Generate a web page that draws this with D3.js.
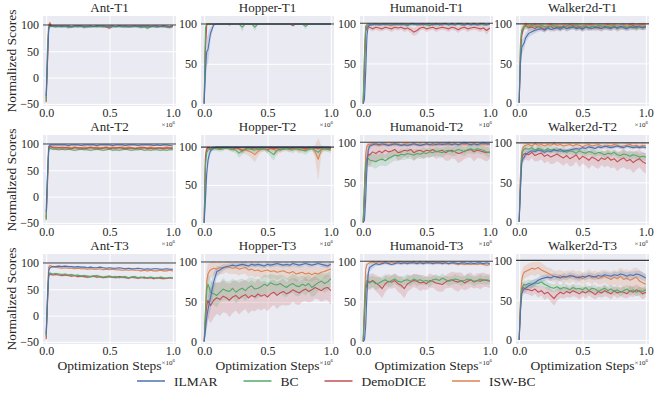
<!DOCTYPE html>
<html><head><meta charset="utf-8">
<script src="https://cdn.jsdelivr.net/npm/d3@7"></script>
<style>
body{margin:0;background:#fff;}
</style></head><body>
<svg id="chart" width="654" height="394"></svg>
<script>
// Training steps at which each run was evaluated
const steps = [0, 1e4, 2e4, 3e4, 4e4, 5e4,
  7.5e4, 1e5, 1.25e5, 1.5e5, 1.75e5, 2e5, 2.25e5, 2.5e5, 2.75e5, 3e5,
  3.25e5, 3.5e5, 3.75e5, 4e5, 4.25e5, 4.5e5, 4.75e5, 5e5, 5.25e5, 5.5e5,
  5.75e5, 6e5, 6.25e5, 6.5e5, 6.75e5, 7e5, 7.25e5, 7.5e5, 7.75e5, 8e5,
  8.25e5, 8.5e5, 8.75e5, 9e5, 9.25e5, 9.5e5, 9.75e5, 1e6];
const xTicks = [0, 5e5, 1e6];
const antTicks = [-50, 0, 50, 100];
const defTicks = [0, 50, 100];
const methods = ["ILMAR", "BC", "DemoDICE", "ISW-BC"];
const colors = ["#4C72B0", "#55A868", "#C44E52", "#DD8452"];

// ---- Ant ----
const ant1_ilmar = [-35,30,93,97,98,98, 98,98,97,98,98,97,98,98,98,97, 98,98,97,98,98,98,97,98,98,97, 98,98,98,97,98,98,97,98,98,98, 97,98,98,97,98,98,97,98];
const ant1_ilmar_sd = [6,15,5,2,1,1, 1,1,1,1,1,1,1,1,1,1, 1,1,1,1,1,1,1,1,1,1, 1,1,1,1,1,1,1,1,1,1, 1,1,1,1,1,1,1,1];
const ant1_bc = [-45,45,96,98,97,97, 96,97,96,97,95,96,97,96,97,95, 97,96,97,96,97,96,97,96,97,96, 97,96,96,97,96,97,96,95,96,94, 96,97,96,97,96,97,96,97];
const ant1_bc_sd = [5,12,4,2,2,2, 2,2,2,2,3,2,2,2,2,3, 2,2,2,2,2,2,2,2,2,2, 2,2,2,2,2,2,2,3,2,3, 2,2,2,2,2,2,2,2];
const ant1_demo = [-47,25,94,102,98,97, 97,97,98,97,97,96,97,98,97,97, 96,97,97,98,97,97,96,94,97,97, 98,97,97,96,97,97,98,97,97,96, 97,97,96,97,98,96,95,97];
const ant1_demo_sd = [5,15,5,4,2,2, 2,2,2,2,2,2,2,2,2,2, 2,2,2,2,2,2,2,3,2,2, 2,2,2,2,2,2,2,2,2,2, 2,2,2,2,2,2,3,2];
const ant1_isw = [-40,55,100,104,99,98, 98,97,98,97,98,97,98,97,98,98, 97,98,97,98,97,98,98,97,98,97, 98,97,98,98,97,98,97,98,97,98, 98,97,98,97,98,96,97,98];
const ant1_isw_sd = [5,12,4,4,2,1, 1.5,1.5,1.5,1.5,1.5,1.5,1.5,1.5,1.5,1.5, 1.5,1.5,1.5,1.5,1.5,1.5,1.5,1.5,1.5,1.5, 1.5,1.5,1.5,1.5,1.5,1.5,1.5,1.5,1.5,1.5, 1.5,1.5,1.5,1.5,1.5,1.5,1.5,1.5];

const ant2_ilmar = [-30,40,95,98,98,98, 98,98,98,98,97,98,98,98,97,98, 98,98,98,97,98,98,98,98,97,98, 98,98,97,98,98,98,97,98,98,98, 98,97,98,97,98,98,97,96];
const ant2_ilmar_sd = [6,15,4,2,1,1, 1,1,1,1,1,1,1,1,1,1, 1,1,1,1,1,1,1,1,1,1, 1,1,1,1,1,1,1,1,1,1, 1,1,1,1,1,1,1,1];
const ant2_bc = [-45,30,88,92,91,90, 90,89,90,89,90,89,88,89,90,89, 89,88,89,90,89,88,89,90,88,89, 88,89,90,89,88,89,89,90,88,89, 88,89,89,88,89,88,89,89];
const ant2_bc_sd = [5,15,5,3,2,2, 2,2,2,2,2,2,2,2,2,2, 2,2,2,2,2,2,2,2,2,2, 2,2,2,2,2,2,2,2,2,2, 2,2,2,2,2,2,2,2];
const ant2_demo = [-42,20,90,95,94,93, 92,93,92,93,92,91,93,92,92,91, 92,93,92,92,91,92,93,91,92,92, 93,92,91,92,92,91,92,92,93,91, 92,91,92,92,91,92,92,91];
const ant2_demo_sd = [5,15,5,3,2,2, 2,2,2,2,2,2,2,2,2,2, 2,2,2,2,2,2,2,2,2,2, 2,2,2,2,2,2,2,2,2,2, 2,2,2,2,2,2,2,2];
const ant2_isw = [-40,35,92,96,95,94, 94,93,94,93,94,93,94,93,93,94, 93,94,93,94,93,93,94,93,94,93, 93,94,93,94,93,92,93,94,93,93, 94,93,92,93,93,94,93,93];
const ant2_isw_sd = [5,15,4,3,2,2, 2,2,2,2,2,2,2,2,2,2, 2,2,2,2,2,2,2,2,2,2, 2,2,2,2,2,2,2,2,2,2, 2,2,2,2,2,2,2,2];

const ant3_ilmar = [-35,30,85,91,92,93, 93,94,93,94,93,93,92,93,92,92, 91,92,91,91,92,91,90,91,90,90, 91,90,89,90,89,89,90,89,88,89, 88,89,89,88,88,89,88,88];
const ant3_ilmar_sd = [6,15,5,2,1.5,1.5, 1.5,1.5,1.5,1.5,1.5,1.5,1.5,1.5,1.5,1.5, 1.5,1.5,1.5,1.5,1.5,1.5,1.5,1.5,1.5,1.5, 1.5,1.5,1.5,1.5,1.5,1.5,1.5,1.5,1.5,1.5, 1.5,1.5,1.5,1.5,1.5,1.5,1.5,1.5];
const ant3_bc = [-38,25,78,81,80,79, 80,79,78,79,77,78,76,77,75,76, 75,74,75,76,74,73,74,75,73,74, 72,73,74,72,73,74,72,73,71,72, 73,72,71,73,72,71,72,72];
const ant3_bc_sd = [5,15,4,3,2,2, 2,2,2,2,2,2,2,2,2,2, 2,2,2,2,2,2,2,2,2,2, 2,2,2,2,2,2,2,2,2,2, 2,2,2,2,2,2,2,2];
const ant3_demo = [-45,20,75,79,78,77, 78,77,76,77,76,75,76,74,75,74, 73,74,75,73,74,72,73,74,73,72, 74,73,72,71,73,72,71,72,73,71, 72,70,72,71,70,71,72,71];
const ant3_demo_sd = [5,15,4,3,2,2, 2,2,2,2,2,2,2,2,2,2, 2,2,2,2,2,2,2,2,2,2, 2,2,2,2,2,2,2,2,2,2, 2,2,2,2,2,2,2,2];
const ant3_isw = [-40,40,92,95,94,93, 92,91,90,91,90,90,89,90,89,89, 88,89,88,88,89,87,88,87,88,87, 87,86,87,86,87,86,86,85,86,85, 86,85,85,86,85,85,86,85];
const ant3_isw_sd = [5,15,4,2,1.5,1.5, 1.5,1.5,1.5,1.5,1.5,1.5,1.5,1.5,1.5,1.5, 1.5,1.5,1.5,1.5,1.5,1.5,1.5,1.5,1.5,1.5, 1.5,1.5,1.5,1.5,1.5,1.5,1.5,1.5,1.5,1.5, 1.5,1.5,1.5,1.5,1.5,1.5,1.5,1.5];

// ---- Hopper ----
const hop1_ilmar = [0,40,65,68,78,88, 99,100,100,100,100,100,100,100,100,100, 100,100,100,100,100,100,100,100,100,100, 100,100,100,100,100,100,100,100,100,100, 100,100,100,100,100,100,100,100];
const hop1_ilmar_sd = [0,20,18,18,15,8, 2,0.5,0.5,0.5,0.5,0.5,0.5,0.5,0.5,0.5, 0.5,0.5,0.5,0.5,0.5,0.5,0.5,0.5,0.5,0.5, 0.5,0.5,0.5,0.5,0.5,0.5,0.5,0.5,0.5,0.5, 0.5,0.5,0.5,0.5,0.5,0.5,0.5,0.5];
const hop1_bc = [0,95,100,100,100,100, 100,100,100,100,100,99,100,100,100,96, 100,100,100,96,100,100,100,100,100,100, 100,100,100,100,100,100,100,100,100,97, 100,100,100,100,100,100,100,100];
const hop1_bc_sd = [0,5,1,0.5,0.5,0.5, 0.5,0.5,0.5,0.5,0.5,2,0.5,0.5,0.5,6, 0.5,0.5,0.5,5,0.5,0.5,0.5,0.5,0.5,0.5, 0.5,0.5,0.5,0.5,0.5,0.5,0.5,0.5,0.5,4, 0.5,0.5,0.5,0.5,0.5,0.5,0.5,0.5];
const hop1_demo = [0,70,99,100,100,100, 100,100,100,100,100,100,100,100,100,100, 100,100,100,100,100,100,100,100,100,100, 100,100,100,100,100,98,100,100,100,100, 100,100,100,100,100,100,100,100];
const hop1_demo_sd = [0,15,2,0.5,0.5,0.5, 0.5,0.5,0.5,0.5,0.5,0.5,0.5,0.5,0.5,0.5, 0.5,0.5,0.5,0.5,0.5,0.5,0.5,0.5,0.5,0.5, 0.5,0.5,0.5,0.5,0.5,2,0.5,0.5,0.5,0.5, 0.5,0.5,0.5,0.5,0.5,0.5,0.5,0.5];
const hop1_isw = [0,80,100,100,100,100, 100,100,100,100,100,100,100,100,100,100, 100,100,100,100,100,100,100,100,100,100, 100,100,100,100,100,100,100,100,100,100, 100,100,100,100,100,100,100,100];
const hop1_isw_sd = [0,12,1,0.5,0.5,0.5, 0.5,0.5,0.5,0.5,0.5,0.5,0.5,0.5,0.5,0.5, 0.5,0.5,0.5,0.5,0.5,0.5,0.5,0.5,0.5,0.5, 0.5,0.5,0.5,0.5,0.5,0.5,0.5,0.5,0.5,0.5, 0.5,0.5,0.5,0.5,0.5,0.5,0.5,0.5];

const hop2_ilmar = [0,30,65,82,90,95, 99,100,100,100,100,100,100,100,100,100, 100,100,100,100,100,100,100,100,100,100, 100,100,100,100,100,100,100,100,100,100, 100,100,100,100,100,100,100,100];
const hop2_ilmar_sd = [0,15,15,10,6,4, 1,0.5,0.5,0.5,0.5,0.5,0.5,0.5,0.5,0.5, 0.5,0.5,0.5,0.5,0.5,0.5,0.5,0.5,0.5,0.5, 0.5,0.5,0.5,0.5,0.5,0.5,0.5,0.5,0.5,0.5, 0.5,0.5,0.5,0.5,0.5,0.5,0.5,0.5];
const hop2_bc = [0,75,93,96,97,97, 98,98,97,98,99,98,97,96,92,95, 97,98,97,96,98,97,98,96,93,90, 96,98,97,98,97,96,98,97,96,95, 97,98,96,93,97,98,97,96];
const hop2_bc_sd = [0,15,6,4,3,3, 3,3,3,3,2,3,3,4,6,5, 3,3,3,4,3,3,3,4,6,8, 4,3,3,3,3,4,3,3,4,5, 4,3,5,8,4,3,3,4];
const hop2_demo = [0,85,97,99,99,98, 99,99,98,99,99,98,97,99,98,95, 98,99,98,99,97,99,98,96,99,98, 99,96,98,99,98,99,98,99,99,98, 99,98,99,98,99,98,99,98];
const hop2_demo_sd = [0,10,3,2,2,2, 2,2,2,2,2,2,3,2,2,4, 2,2,2,2,3,2,2,4,2,2, 2,4,2,2,2,2,2,2,2,2, 2,2,2,2,2,2,2,2];
const hop2_isw = [0,88,98,99,99,98, 99,98,99,98,99,99,98,99,98,97, 96,95,93,90,94,97,98,99,98,97, 95,98,99,98,97,99,98,96,98,97, 98,99,94,84,96,98,97,98];
const hop2_isw_sd = [0,8,3,2,2,2, 2,2,2,2,2,2,2,2,3,4, 5,6,8,10,6,4,3,2,3,4, 6,3,2,3,4,2,3,5,3,4, 3,2,8,28,6,3,3,2];

const hop3_ilmar = [0,15,30,40,48,55, 75,88,90,93,94,95,96,95,96,97, 96,95,97,96,97,96,95,97,96,97, 98,97,96,97,96,98,97,96,97,98, 97,96,97,98,97,96,95,97];
const hop3_ilmar_sd = [0,10,15,15,15,15, 12,7,5,4,3,3,3,3,3,3, 3,3,3,3,3,3,3,3,3,3, 3,3,3,3,3,3,3,3,3,3, 3,3,3,3,3,3,3,3];
const hop3_bc = [0,35,65,72,68,62, 60,58,62,66,64,63,67,62,65,67, 64,68,70,66,67,69,72,70,74,72, 71,73,70,68,71,73,70,69,72,70, 73,68,71,74,76,73,75,79];
const hop3_bc_sd = [0,15,15,15,15,15, 14,15,13,14,12,13,12,14,13,12, 13,12,11,13,12,11,12,13,11,12, 12,11,13,12,11,12,13,12,11,12, 11,12,13,11,10,12,11,10];
const hop3_demo = [0,25,45,52,48,45, 52,55,53,57,55,52,56,58,54,57, 59,55,58,56,60,57,59,56,60,62, 58,61,63,60,62,65,63,61,64,66, 63,65,68,66,64,67,68,64];
const hop3_demo_sd = [0,18,22,22,22,22, 22,20,21,20,19,21,20,19,20,19, 18,20,19,18,19,18,17,18,17,16, 17,16,17,15,16,15,16,15,14,15, 14,15,14,13,14,15,16,18];
const hop3_isw = [0,40,75,85,88,90, 92,91,93,92,94,93,92,93,91,92, 93,90,91,89,90,88,89,90,88,89, 87,88,89,87,86,88,85,86,87,85, 86,84,86,85,87,88,90,91];
const hop3_isw_sd = [0,15,15,12,10,10, 9,8,8,7,7,8,7,8,8,7, 8,9,8,9,8,9,8,9,10,9, 10,9,8,9,10,9,10,9,8,9, 10,9,8,9,8,9,8,9];

// ---- Humanoid ----
const hum1_ilmar = [0,5,40,85,96,98, 98,99,98,99,98,99,99,98,99,98, 99,98,99,99,98,99,98,99,99,98, 99,98,99,99,98,99,98,99,99,98, 99,98,99,98,99,99,98,99];
const hum1_ilmar_sd = [0,5,20,10,2,1.5, 1.5,1.5,1.5,1.5,1.5,1.5,1.5,1.5,1.5,1.5, 1.5,1.5,1.5,1.5,1.5,1.5,1.5,1.5,1.5,1.5, 1.5,1.5,1.5,1.5,1.5,1.5,1.5,1.5,1.5,1.5, 1.5,1.5,1.5,1.5,1.5,1.5,1.5,1.5];
const hum1_bc = [0,60,96,98,99,98, 99,98,99,98,99,98,98,99,98,99, 98,97,99,98,99,98,99,98,97,99, 98,99,98,99,98,99,98,99,98,98, 99,98,99,98,99,98,98,99];
const hum1_bc_sd = [0,20,3,2,1.5,1.5, 1.5,1.5,1.5,1.5,1.5,1.5,1.5,1.5,1.5,1.5, 1.5,1.5,1.5,1.5,1.5,1.5,1.5,1.5,1.5,1.5, 1.5,1.5,1.5,1.5,1.5,1.5,1.5,1.5,1.5,1.5, 1.5,1.5,1.5,1.5,1.5,1.5,1.5,1.5];
const hum1_demo = [0,40,90,95,96,95, 93,95,94,93,95,94,93,95,94,95, 93,94,92,89,91,94,95,93,94,95, 93,94,95,94,93,95,94,92,94,95, 93,94,95,94,93,94,91,94];
const hum1_demo_sd = [0,20,6,4,3,3, 3,3,4,3,3,3,4,3,3,3, 4,3,4,5,5,3,3,4,3,3, 4,3,3,3,4,3,3,4,3,3, 4,3,3,3,4,3,5,3];
const hum1_isw = [0,55,95,98,98,99, 98,99,98,98,99,98,97,99,98,99, 98,99,98,99,98,98,99,98,99,98, 99,98,98,99,98,99,98,99,98,98, 99,98,99,98,98,99,98,99];
const hum1_isw_sd = [0,20,3,2,1.5,1.5, 1.5,1.5,1.5,1.5,1.5,1.5,1.5,1.5,1.5,1.5, 1.5,1.5,1.5,1.5,1.5,1.5,1.5,1.5,1.5,1.5, 1.5,1.5,1.5,1.5,1.5,1.5,1.5,1.5,1.5,1.5, 1.5,1.5,1.5,1.5,1.5,1.5,1.5,1.5];

const hum2_ilmar = [0,3,30,70,90,95, 97,98,97,98,97,96,97,98,97,96, 97,96,97,98,97,96,97,98,97,98, 97,98,97,98,98,97,98,97,98,99, 98,97,98,97,98,99,98,98];
const hum2_ilmar_sd = [0,3,20,15,5,3, 2,2,2,2,2,2,2,2,2,2, 2,2,2,2,2,2,2,2,2,2, 2,2,2,2,2,2,2,2,2,2, 2,2,2,2,2,2,2,2];
const hum2_bc = [0,45,72,78,80,78, 77,76,78,79,77,80,82,84,83,85, 84,86,85,84,86,85,87,86,88,87, 89,88,87,89,90,88,89,91,90,88, 91,92,90,92,91,90,88,87];
const hum2_bc_sd = [0,20,10,8,8,8, 8,9,8,8,7,8,7,7,6,7, 6,7,6,7,6,6,7,6,6,5, 6,5,6,5,6,5,6,5,6,5, 5,6,5,5,6,5,6,6];
const hum2_demo = [0,30,70,80,85,84, 88,86,89,87,90,88,89,91,87,88, 90,89,91,87,89,90,88,90,89,91, 88,89,90,87,89,90,88,86,87,89, 90,91,88,90,89,88,87,88];
const hum2_demo_sd = [0,20,20,18,15,15, 12,12,10,10,9,10,9,8,10,9, 8,9,8,10,9,8,9,8,9,8, 9,8,9,10,12,10,9,12,11,10, 9,10,12,10,9,10,11,9];
const hum2_isw = [0,40,85,95,97,97, 98,97,96,97,98,97,98,97,98,97, 98,98,97,98,97,98,97,98,97,96, 98,97,98,97,98,97,98,97,98,97, 98,97,98,97,98,97,98,98];
const hum2_isw_sd = [0,20,8,3,2,2, 2,2,2,2,2,2,2,2,2,2, 2,2,2,2,2,2,2,2,2,2, 2,2,2,2,2,2,2,2,2,2, 2,2,2,2,2,2,2,2];

const hum3_ilmar = [0,2,20,60,85,92, 95,97,96,97,98,97,96,97,98,97, 98,97,98,98,97,98,97,98,98,97, 98,98,97,98,97,98,98,97,98,98, 97,98,97,98,98,97,98,97];
const hum3_ilmar_sd = [0,2,15,20,8,5, 4,3,2,2,2,2,2,2,2,2, 2,2,2,2,2,2,2,2,2,2, 2,2,2,2,2,2,2,2,2,2, 2,2,2,2,2,2,2,2];
const hum3_bc = [0,40,72,76,74,73, 75,72,73,75,77,74,76,78,75,74, 76,77,75,78,76,77,75,76,74,77, 78,76,79,77,75,76,78,77,75,76, 78,77,75,76,78,76,77,76];
const hum3_bc_sd = [0,20,10,8,8,7, 7,8,7,6,7,6,7,6,6,7, 6,7,6,6,7,6,5,6,6,5, 6,5,6,5,6,5,6,5,6,5, 6,5,6,5,6,5,6,5];
const hum3_demo = [0,30,65,72,75,74, 76,73,70,66,72,75,74,76,72,70, 66,72,74,76,75,73,74,72,76,75, 73,72,71,74,76,77,75,74,76,73, 75,77,74,76,75,77,76,75];
const hum3_demo_sd = [0,20,15,12,10,10, 9,10,11,12,10,9,8,9,10,11, 12,10,9,8,9,10,9,8,9,8, 9,10,9,8,9,10,11,12,10,9, 10,9,8,9,10,9,8,9];
const hum3_isw = [0,50,90,96,97,98, 99,98,99,98,99,98,99,98,99,99, 98,99,98,99,98,99,98,99,98,99, 98,98,99,98,97,98,97,96,97,96, 97,96,97,96,97,96,95,96];
const hum3_isw_sd = [0,20,6,2,1.5,1.5, 1.5,1.5,1.5,1.5,1.5,1.5,1.5,1.5,1.5,1.5, 1.5,1.5,1.5,1.5,1.5,1.5,1.5,1.5,1.5,1.5, 1.5,1.5,1.5,1.5,1.5,1.5,1.5,1.5,1.5,1.5, 1.5,1.5,1.5,1.5,1.5,1.5,1.5,1.5];

// ---- Walker2d ----
const wal1_ilmar = [0,50,70,73,76,82, 88,90,92,93,94,92,95,93,94,95, 93,96,94,95,96,94,95,93,96,95, 94,96,95,94,96,95,94,96,95,97, 95,94,96,95,97,96,95,96];
const wal1_ilmar_sd = [0,15,10,8,8,6, 5,4,4,3,3,3,3,3,3,3, 3,3,3,3,3,3,3,3,3,3, 3,3,3,3,3,3,3,3,3,3, 3,3,3,3,3,3,3,3];
const wal1_bc = [0,75,92,94,96,97, 96,98,97,96,98,97,95,97,98,96, 97,95,98,97,96,98,97,96,98,95, 97,96,98,97,95,97,96,98,94,96, 97,95,97,96,94,97,95,96];
const wal1_bc_sd = [0,12,5,4,3,3, 3,3,3,3,3,3,3,3,3,3, 3,3,3,3,3,3,3,3,3,3, 3,3,3,3,3,3,3,3,3,3, 3,3,3,3,3,3,3,3];
const wal1_demo = [0,60,85,92,96,98, 95,96,94,97,95,93,96,97,94,96, 95,97,94,96,98,95,97,94,96,95, 97,95,96,94,97,96,95,97,94,96, 97,95,96,98,95,97,96,97];
const wal1_demo_sd = [0,15,8,5,4,4, 4,4,4,4,4,4,4,4,4,4, 4,4,4,4,4,4,4,4,4,4, 4,4,4,4,4,4,4,4,4,4, 4,4,4,4,4,4,4,4];
const wal1_isw = [0,70,90,95,98,99, 98,97,99,97,98,96,98,99,97,98, 96,98,97,99,97,98,96,98,97,99, 98,97,96,98,97,99,98,97,98,96, 98,97,99,98,97,98,99,98];
const wal1_isw_sd = [0,15,6,4,3,3, 3,3,3,3,3,3,3,3,3,3, 3,3,3,3,3,3,3,3,3,3, 3,3,3,3,3,3,3,3,3,3, 3,3,3,3,3,3,3,3];

const wal2_ilmar = [0,40,75,80,82,85, 88,90,89,91,90,88,90,89,91,90, 92,89,90,91,92,93,92,94,93,95, 94,93,95,94,96,95,94,95,96,95, 94,96,95,94,95,94,95,94];
const wal2_ilmar_sd = [0,15,10,6,5,4, 2.5,2.5,2.5,2.5,2.5,2.5,2.5,2.5,2.5,2.5, 2.5,2.5,2.5,2.5,2.5,2.5,2.5,2.5,2.5,2.5, 2.5,2.5,2.5,2.5,2.5,2.5,2.5,2.5,2.5,2.5, 2.5,2.5,2.5,2.5,2.5,2.5,2.5,2.5];
const wal2_bc = [0,55,85,90,92,93, 92,94,91,93,92,90,93,91,92,90, 89,91,88,90,89,87,90,88,87,89, 88,86,88,87,85,87,86,88,85,84, 86,85,83,85,84,82,83,82];
const wal2_bc_sd = [0,15,8,5,4,4, 4,4,4,4,4,4,4,4,4,4, 4,4,4,4,4,4,4,4,4,4, 4,4,4,4,4,4,4,4,4,4, 5,5,5,5,5,5,5,5];
const wal2_demo = [0,45,80,85,86,87, 85,88,84,86,87,83,85,82,84,86, 83,81,84,80,82,85,79,83,81,78, 82,80,77,81,79,82,78,80,76,79, 81,77,79,75,78,80,76,74];
const wal2_demo_sd = [0,15,10,8,8,8, 8,7,8,9,8,9,8,9,10,9, 9,10,9,10,11,9,10,9,10,11, 10,11,10,9,10,11,10,11,12,11, 12,11,12,13,12,11,12,13];
const wal2_isw = [0,60,88,94,96,97, 98,96,99,97,98,96,98,97,99,97, 98,96,97,98,96,98,97,95,97,98, 96,97,98,96,95,97,96,98,97,95, 96,97,98,96,97,95,97,96];
const wal2_isw_sd = [0,15,6,4,3,3, 3,3,3,3,3,3,3,3,3,3, 3,3,3,3,3,3,3,3,3,3, 3,3,3,3,3,3,3,3,3,3, 3,3,3,3,3,3,3,3];

const wal3_ilmar = [0,35,58,62,64,65, 68,70,72,75,77,78,79,78,80,79, 78,80,79,81,80,79,78,80,79,81, 80,79,81,80,82,81,80,82,81,83, 82,80,82,81,83,82,80,78];
const wal3_ilmar_sd = [0,12,8,6,5,5, 5,5,4,4,4,4,4,4,4,4, 4,4,4,4,4,4,4,4,4,4, 4,4,4,4,4,4,4,4,4,4, 4,5,4,5,4,5,5,5];
const wal3_bc = [0,45,65,68,70,69, 71,70,72,71,73,70,68,66,65,67, 64,66,65,63,66,64,65,63,66,62, 65,64,61,63,65,62,64,61,63,60, 62,64,61,63,60,62,61,63];
const wal3_bc_sd = [0,12,6,5,5,5, 5,5,5,5,5,5,5,5,5,5, 5,5,5,5,5,5,5,5,5,5, 5,5,5,5,5,5,5,5,5,5, 5,5,5,5,5,5,5,5];
const wal3_demo = [0,40,62,66,65,64, 63,62,64,60,62,58,60,56,52,57, 60,58,61,59,62,60,58,61,59,62, 60,57,61,59,62,60,58,62,59,61, 60,58,62,60,63,61,58,60];
const wal3_demo_sd = [0,12,8,7,6,6, 6,7,6,7,6,8,7,8,9,8, 7,6,7,6,7,6,7,6,7,6, 7,6,7,6,7,6,7,6,7,6, 7,6,7,6,7,6,7,6];
const wal3_isw = [0,50,75,82,85,86, 88,90,89,91,88,86,84,82,80,79, 81,78,80,79,81,78,80,77,79,81, 78,80,77,79,80,78,76,79,77,80, 76,78,75,77,79,74,72,70];
const wal3_isw_sd = [0,15,10,8,8,8, 8,8,9,8,9,8,7,8,7,8, 7,8,7,8,7,8,7,8,7,8, 8,7,8,9,8,9,10,9,10,11, 12,11,12,13,12,14,13,12];

// Panel table (row-major), series in the order of `methods`
const panels = [
  {title: "Ant-T1", yDomain: [-54, 117], yTicks: antTicks,
   mean: [ant1_ilmar, ant1_bc, ant1_demo, ant1_isw], sd: [ant1_ilmar_sd, ant1_bc_sd, ant1_demo_sd, ant1_isw_sd]},
  {title: "Hopper-T1", yDomain: [-3, 110], yTicks: defTicks,
   mean: [hop1_ilmar, hop1_bc, hop1_demo, hop1_isw], sd: [hop1_ilmar_sd, hop1_bc_sd, hop1_demo_sd, hop1_isw_sd]},
  {title: "Humanoid-T1", yDomain: [-3, 109], yTicks: defTicks,
   mean: [hum1_ilmar, hum1_bc, hum1_demo, hum1_isw], sd: [hum1_ilmar_sd, hum1_bc_sd, hum1_demo_sd, hum1_isw_sd]},
  {title: "Walker2d-T1", yDomain: [-4, 110], yTicks: defTicks,
   mean: [wal1_ilmar, wal1_bc, wal1_demo, wal1_isw], sd: [wal1_ilmar_sd, wal1_bc_sd, wal1_demo_sd, wal1_isw_sd]},
  {title: "Ant-T2", yDomain: [-54, 117], yTicks: antTicks,
   mean: [ant2_ilmar, ant2_bc, ant2_demo, ant2_isw], sd: [ant2_ilmar_sd, ant2_bc_sd, ant2_demo_sd, ant2_isw_sd]},
  {title: "Hopper-T2", yDomain: [-3, 116], yTicks: defTicks,
   mean: [hop2_ilmar, hop2_bc, hop2_demo, hop2_isw], sd: [hop2_ilmar_sd, hop2_bc_sd, hop2_demo_sd, hop2_isw_sd]},
  {title: "Humanoid-T2", yDomain: [-3, 109], yTicks: defTicks,
   mean: [hum2_ilmar, hum2_bc, hum2_demo, hum2_isw], sd: [hum2_ilmar_sd, hum2_bc_sd, hum2_demo_sd, hum2_isw_sd]},
  {title: "Walker2d-T2", yDomain: [-4, 110], yTicks: defTicks,
   mean: [wal2_ilmar, wal2_bc, wal2_demo, wal2_isw], sd: [wal2_ilmar_sd, wal2_bc_sd, wal2_demo_sd, wal2_isw_sd]},
  {title: "Ant-T3", yDomain: [-54, 117], yTicks: antTicks,
   mean: [ant3_ilmar, ant3_bc, ant3_demo, ant3_isw], sd: [ant3_ilmar_sd, ant3_bc_sd, ant3_demo_sd, ant3_isw_sd]},
  {title: "Hopper-T3", yDomain: [-3, 110], yTicks: defTicks,
   mean: [hop3_ilmar, hop3_bc, hop3_demo, hop3_isw], sd: [hop3_ilmar_sd, hop3_bc_sd, hop3_demo_sd, hop3_isw_sd]},
  {title: "Humanoid-T3", yDomain: [-3, 109], yTicks: defTicks,
   mean: [hum3_ilmar, hum3_bc, hum3_demo, hum3_isw], sd: [hum3_ilmar_sd, hum3_bc_sd, hum3_demo_sd, hum3_isw_sd]},
  {title: "Walker2d-T3", yDomain: [-5, 108], yTicks: defTicks,
   mean: [wal3_ilmar, wal3_bc, wal3_demo, wal3_isw], sd: [wal3_ilmar_sd, wal3_bc_sd, wal3_demo_sd, wal3_isw_sd]}
];

const FONT = '"Liberation Serif", "DejaVu Serif", serif';
const svg = d3.select("#chart").attr("font-family", FONT);
const W = 133, H = 90;
const lefts = [43, 201, 360, 516];
const tops = [16, 135, 254];
const textColor = "#262626";
const drawOrder = [3, 2, 1, 0]; // ILMAR drawn last, on top

const styleTicks = a => {
  a.select(".domain").remove();
  a.attr("font-family", FONT).attr("font-size", 12);
  a.selectAll("text").attr("fill", textColor).attr("font-family", FONT).attr("font-size", 12);
};

panels.forEach((p, i) => {
  const r = Math.floor(i / 4), c = i % 4;
  const g = svg.append("g").attr("transform", `translate(${lefts[c]},${tops[r]})`);
  const x = d3.scaleLinear().domain([-25000, 1025000]).range([0, W]);
  const y = d3.scaleLinear().domain(p.yDomain).range([H, 0]);

  g.append("rect").attr("width", W).attr("height", H).attr("fill", "#EAEAF2");

  // white grid
  g.append("g").attr("transform", `translate(0,${H})`)
    .call(d3.axisBottom(x).tickValues(xTicks).tickSize(-H).tickFormat(""))
    .call(a => { a.select(".domain").remove(); a.selectAll("line").attr("stroke", "#fff").attr("stroke-width", 1); });
  g.append("g")
    .call(d3.axisLeft(y).tickValues(p.yTicks).tickSize(-W).tickFormat(""))
    .call(a => { a.select(".domain").remove(); a.selectAll("line").attr("stroke", "#fff").attr("stroke-width", 1); });

  const clipId = "clip" + i;
  g.append("clipPath").attr("id", clipId).append("rect").attr("width", W).attr("height", H);
  const plot = g.append("g").attr("clip-path", `url(#${clipId})`);

  const area = (m, s) => d3.area()
    .x((d, k) => x(steps[k]))
    .y0((d, k) => y(m[k] - s[k]))
    .y1((d, k) => y(m[k] + s[k]));
  const line = m => d3.line().x((d, k) => x(steps[k])).y((d, k) => y(m[k]));

  drawOrder.forEach(j => {
    plot.append("path").datum(p.mean[j])
      .attr("d", area(p.mean[j], p.sd[j]))
      .attr("fill", colors[j]).attr("fill-opacity", 0.2).attr("stroke", "none");
  });
  drawOrder.forEach(j => {
    plot.append("path").datum(p.mean[j])
      .attr("d", line(p.mean[j]))
      .attr("fill", "none").attr("stroke", colors[j]).attr("stroke-width", 1.1)
      .attr("stroke-linejoin", "round");
  });

  // expert reference level
  plot.append("line").attr("x1", 0).attr("x2", W).attr("y1", y(100)).attr("y2", y(100))
    .attr("stroke", "#1a1a1a").attr("stroke-width", 1.1).attr("stroke-opacity", 0.85);

  // tick labels
  g.append("g")
    .call(d3.axisLeft(y).tickValues(p.yTicks).tickSize(0).tickPadding(4).tickFormat(d3.format("d")))
    .call(styleTicks);
  g.append("g").attr("transform", `translate(0,${H})`)
    .call(d3.axisBottom(x).tickValues(xTicks).tickSize(0).tickPadding(2).tickFormat(d => (d / 1e6).toFixed(1)))
    .call(styleTicks);

  // scale factor for the step axis
  const offX = Math.min(W - 1, 648 - lefts[c]);
  const off = g.append("text").attr("x", offX).attr("y", H + 21)
    .attr("text-anchor", "end").attr("font-size", 7).attr("fill", textColor);
  off.append("tspan").text("×10");
  off.append("tspan").attr("font-size", 5).attr("dy", -3).text("6");

  g.append("text").attr("x", W / 2).attr("y", -4).attr("text-anchor", "middle")
    .attr("font-size", 13).attr("fill", textColor).text(p.title);

  if (c === 0) {
    svg.append("text")
      .attr("transform", `translate(16,${tops[r] + H / 2}) rotate(-90)`)
      .attr("text-anchor", "middle").attr("font-size", 13.5).attr("fill", textColor)
      .text("Normalized Scores");
  }
  if (r === 2) {
    svg.append("text").attr("x", lefts[c] + W / 2).attr("y", 370)
      .attr("text-anchor", "middle").attr("font-size", 13.5).attr("fill", textColor)
      .text("Optimization Steps");
  }
});

// legend
const legend = svg.append("g").attr("transform", "translate(137,381)");
let lx = 0;
methods.forEach((name, j) => {
  const item = legend.append("g").attr("transform", `translate(${lx},0)`);
  item.append("line").attr("x1", 0).attr("x2", 28).attr("y1", 0).attr("y2", 0)
    .attr("stroke", colors[j]).attr("stroke-width", 1.5);
  const t = item.append("text").attr("x", 37).attr("y", 4.5).attr("font-size", 13.5)
    .attr("fill", textColor).text(name);
  lx += 37 + t.node().getComputedTextLength() + 26;
});
</script>
</body></html>
